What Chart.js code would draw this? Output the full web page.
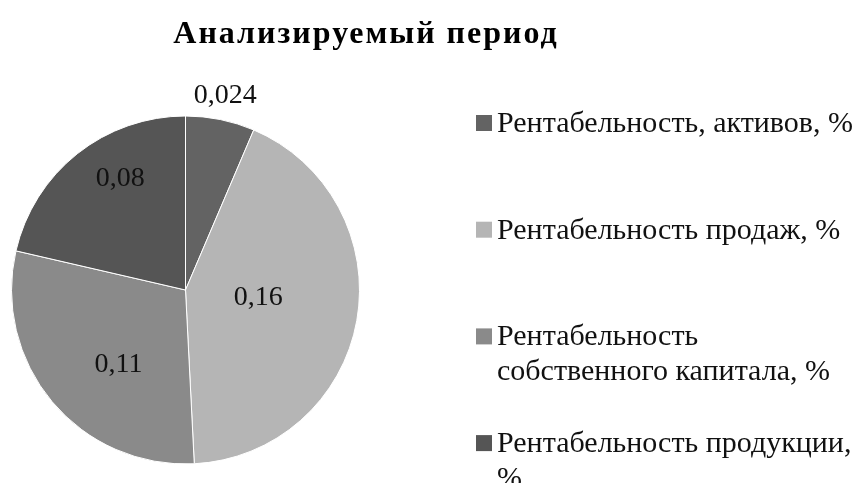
<!DOCTYPE html>
<html>
<head>
<meta charset="utf-8">
<script src="https://cdn.jsdelivr.net/npm/chart.js@4/dist/chart.umd.min.js"></script>
<style>
  html, body { margin: 0; padding: 0; background: #ffffff; }
  #wrap { width: 861px; height: 483px; position: relative; }
</style>
</head>
<body>
<div id="wrap"><canvas id="c" width="861" height="483"></canvas></div>
<script>
const chartTitle = "Анализируемый период";
const categories = [
  "Рентабельность, активов, %",
  "Рентабельность продаж, %",
  "Рентабельность собственного капитала, %",
  "Рентабельность продукции, %"
];
const values = [0.024, 0.16, 0.11, 0.08];
const valueLabels = ["0,024", "0,16", "0,11", "0,08"];
const colors = ["#636363", "#b5b5b5", "#8a8a8a", "#555555"];

const SERIF = "'Liberation Serif', 'Times New Roman', serif";

const labelPlugin = {
  id: 'sliceLabels',
  afterDatasetsDraw(chart, args, opts) {
    const ctx = chart.ctx;
    const meta = chart.getDatasetMeta(0);
    ctx.save();
    ctx.font = opts.font;
    ctx.fillStyle = opts.color;
    ctx.textAlign = 'center';
    ctx.textBaseline = 'middle';
    meta.data.forEach((arc, i) => {
      const p = arc.getProps(['x', 'y', 'startAngle', 'endAngle', 'outerRadius'], true);
      const mid = (p.startAngle + p.endAngle) / 2 + (opts.angleShift[i] || 0) * Math.PI / 180;
      const r = p.outerRadius * opts.radial[i];
      ctx.fillText(valueLabels[i], p.x + Math.cos(mid) * r, p.y + Math.sin(mid) * r);
    });
    ctx.restore();
  }
};

const sideLegendPlugin = {
  id: 'sideLegend',
  afterDraw(chart, args, opts) {
    const ctx = chart.ctx;
    ctx.save();
    // title
    ctx.font = opts.titleFont;
    ctx.fillStyle = '#000';
    ctx.textAlign = 'left';
    ctx.textBaseline = 'alphabetic';
    try { ctx.letterSpacing = opts.titleSpacing; } catch (e) {}
    const tw = ctx.measureText(chartTitle).width;
    ctx.fillText(chartTitle, opts.titleX - tw / 2, opts.titleY);
    try { ctx.letterSpacing = '0px'; } catch (e) {}
    // legend
    ctx.font = opts.font;
    ctx.textAlign = 'left';
    ctx.textBaseline = 'alphabetic';
    const bg = chart.data.datasets[0].backgroundColor;
    chart.data.labels.forEach((lab, i) => {
      const yb = opts.top + i * opts.step;
      ctx.fillStyle = bg[i];
      ctx.fillRect(opts.markerX, yb - opts.markerUp, opts.marker, opts.marker);
      const words = lab.split(' ');
      const lines = [];
      let cur = '';
      words.forEach(w => {
        const test = cur ? cur + ' ' + w : w;
        if (ctx.measureText(test).width > opts.maxWidth && cur) {
          lines.push(cur);
          cur = w;
        } else {
          cur = test;
        }
      });
      if (cur) lines.push(cur);
      ctx.fillStyle = opts.color;
      lines.forEach((ln, k) => {
        ctx.fillText(ln, opts.textX, yb + k * opts.lineHeight);
      });
    });
    ctx.restore();
  }
};

new Chart(document.getElementById('c'), {
  type: 'pie',
  data: {
    labels: categories,
    datasets: [{
      data: values,
      backgroundColor: colors,
      borderColor: '#ffffff',
      borderWidth: 1
    }]
  },
  options: {
    responsive: false,
    animation: false,
    layout: { padding: { left: 11, top: 113, right: 501, bottom: 16 } },
    plugins: {
      legend: { display: false },
      title: { display: false },
      tooltip: { enabled: false },
      sliceLabels: {
        font: "28px " + SERIF,
        color: '#111111',
        radial: [1.14, 0.42, 0.575, 0.74],
        angleShift: [0, -4, -8, 8]
      },
      sideLegend: {
        titleFont: "bold 32px " + SERIF,
        titleSpacing: '2px',
        titleX: 366,
        titleY: 43,
        font: "30px " + SERIF,
        color: '#111111',
        markerX: 476,
        marker: 16,
        markerUp: 17,
        textX: 497,
        maxWidth: 366,
        top: 132,
        step: 106.7,
        lineHeight: 35
      }
    }
  },
  plugins: [labelPlugin, sideLegendPlugin]
});
</script>
</body>
</html>
